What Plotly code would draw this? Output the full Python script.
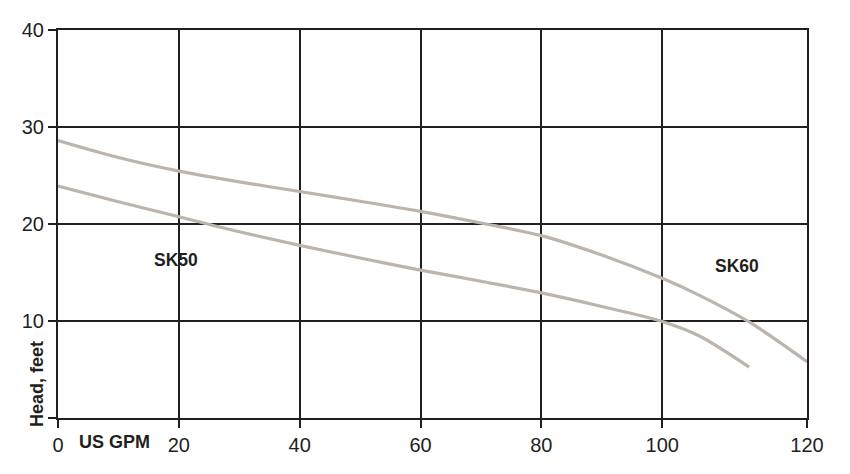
import plotly.graph_objects as go

# Pump curves (US GPM vs head in feet)
flow_sk60 = [0, 10, 20, 30, 40, 50, 60, 70, 80, 90, 100, 105, 112, 120]
head_sk60 = [28.6, 26.85, 25.45, 24.35, 23.35, 22.35, 21.3, 20.1, 18.8, 16.8, 14.4, 12.7, 9.9, 5.8]
flow_sk50 = [0, 10, 20, 30, 40, 50, 60, 70, 80, 90, 100, 105, 112]
head_sk50 = [23.9, 22.3, 20.75, 19.2, 17.8, 16.5, 15.25, 14.1, 12.9, 11.5, 9.95, 8.5, 5.25]

x_ticks = [0, 20, 40, 60, 80, 100, 120]
x_tick_labels = ["0", "20", "40", "60", "80", "100", "120"]
y_ticks = [0, 10, 20, 30, 40]
y_tick_labels = ["", "10", "20", "30", "40"]

# The printed chart's last interval (100-120) is drawn wider than the others.
LAST_INTERVAL_STRETCH = 145.0 / 121.0


def gpm_to_axis(x):
    return x if x <= 100 else 100 + (x - 100) * LAST_INTERVAL_STRETCH


line_color = "#bdb4ad"
ink = "#231f20"
font_family = "Liberation Sans, Arial, sans-serif"

fig = go.Figure()
fig.add_trace(go.Scatter(x=[gpm_to_axis(v) for v in flow_sk60], y=head_sk60, mode="lines",
                         name="SK60", customdata=flow_sk60,
                         line=dict(color=line_color, width=3.2, shape="spline", smoothing=0.9),
                         showlegend=False))
fig.add_trace(go.Scatter(x=[gpm_to_axis(v) for v in flow_sk50], y=head_sk50, mode="lines",
                         name="SK50", customdata=flow_sk50,
                         line=dict(color=line_color, width=3.2, shape="spline", smoothing=0.9),
                         showlegend=False))

axis_common = dict(showgrid=True, gridcolor=ink, gridwidth=2,
                   showline=True, linecolor=ink, linewidth=2, mirror=True,
                   ticks="outside", ticklen=8, tickwidth=2, tickcolor=ink,
                   zeroline=False, automargin=False,
                   tickfont=dict(family=font_family, size=20, color=ink))

fig.update_xaxes(range=[0, gpm_to_axis(120)], tickvals=[gpm_to_axis(v) for v in x_ticks],
                 ticktext=x_tick_labels, **axis_common)
fig.update_yaxes(range=[0, 40], tickvals=y_ticks, ticktext=y_tick_labels, **axis_common)

fig.add_annotation(x=gpm_to_axis(19.6), y=16.3, text="<b>SK50</b>", showarrow=False,
                   font=dict(family=font_family, size=17.5, color=ink))
fig.add_annotation(x=gpm_to_axis(110.3), y=15.7, text="<b>SK60</b>", showarrow=False,
                   font=dict(family=font_family, size=17.5, color=ink))
fig.add_annotation(x=gpm_to_axis(9.35), y=0, yshift=-23.5, text="<b>US GPM</b>", showarrow=False,
                   xanchor="center", yanchor="middle",
                   font=dict(family=font_family, size=18, color=ink))
fig.add_annotation(xref="paper", x=0, xshift=-21, y=3.5, text="<b>Head, feet</b>",
                   textangle=-90, showarrow=False, xanchor="center", yanchor="middle",
                   font=dict(family=font_family, size=18, color=ink))

fig.update_layout(width=850, height=474, margin=dict(l=50, r=51, t=22, b=64),
                  plot_bgcolor="white", paper_bgcolor="white")

fig.write_html("out.html")
